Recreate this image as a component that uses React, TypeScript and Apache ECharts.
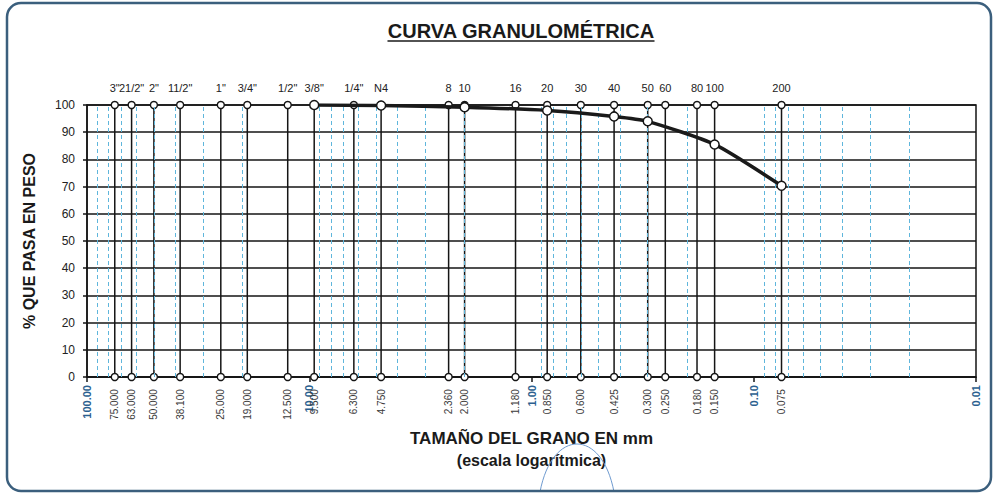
import React, { useEffect, useRef } from "react";
import * as echarts from "echarts";

const sieveNames = ['3"', '21/2"', '2"', '11/2"', '1"', '3/4"', '1/2"', '3/8"', '1/4"', "N4", "8", "10", "16", "20", "30", "40", "50", "60", "80", "100", "200"];
const sieveSizes = [75, 63, 50, 38.1, 25, 19, 12.5, 9.5, 6.3, 4.75, 2.36, 2.0, 1.18, 0.85, 0.6, 0.425, 0.3, 0.25, 0.18, 0.15, 0.075];
const sieveSizeLabels = ["75.000", "63.000", "50.000", "38.100", "25.000", "19.000", "12.500", "9.500", "6.300", "4.750", "2.360", "2.000", "1.180", "0.850", "0.600", "0.425", "0.300", "0.250", "0.180", "0.150", "0.075"];

const curveSizes = [9.5, 4.75, 2.0, 0.85, 0.425, 0.3, 0.15, 0.075];
const curvePassing = [100, 99.8, 99.2, 98.0, 95.8, 94.0, 85.5, 70.3];

const minorGridValues = [
  90, 80, 70, 60, 50, 40, 30, 20,
  9, 8, 7, 6, 5, 4, 3, 2,
  0.9, 0.8, 0.7, 0.6, 0.5, 0.4, 0.3, 0.2,
  0.09, 0.08, 0.07, 0.06, 0.05, 0.04, 0.03, 0.02,
];

const TITLE = "CURVA GRANULOMÉTRICA";
const FONT = "'Liberation Sans', Arial, sans-serif";

export default function App() {
  const ref = useRef<HTMLDivElement>(null);

  useEffect(() => {
    if (!ref.current) return;
    const chart = echarts.init(ref.current, null, { renderer: "svg" });

    let titleW = 298;
    try {
      const c = document.createElement("canvas").getContext("2d");
      if (c) {
        c.font = "bold 20px 'Liberation Sans', Arial, sans-serif";
        titleW = c.measureText(TITLE).width;
      }
    } catch (e) {}
    const titleCx = 521;

    const sieveSeries = sieveSizes.map((s, i) => ({
      type: "line",
      silent: true,
      z: 3,
      symbol: "circle",
      symbolSize: 7,
      itemStyle: { color: "#fff", borderColor: "#151515", borderWidth: 1.4 },
      lineStyle: { color: "#151515", width: 1.5 },
      data: [
        {
          value: [s, 0],
          label: {
            show: true,
            position: "bottom",
            formatter: sieveSizeLabels[i],
            rotate: 90,
            align: "right",
            verticalAlign: "middle",
            distance: 8,
            fontSize: 10,
            fontFamily: FONT,
            color: "#3a3a3a",
          },
        },
        {
          value: [s, 100],
          label: {
            show: true,
            position: "top",
            formatter: sieveNames[i],
            distance: 7,
            fontSize: 11,
            fontFamily: FONT,
            color: "#222",
          },
        },
      ],
    }));

    const option: any = {
      animation: false,
      backgroundColor: "#fff",
      grid: {
        left: 87,
        right: 22,
        top: 105,
        bottom: 118,
        show: true,
        borderColor: "#151515",
        borderWidth: 1.5,
      },
      xAxis: {
        type: "log",
        logBase: 10,
        min: 0.01,
        max: 100,
        inverse: true,
        position: "bottom",
        axisLine: { show: true, lineStyle: { color: "#151515", width: 1.5 } },
        axisTick: { show: true, length: 5, lineStyle: { color: "#151515", width: 1.5 } },
        splitLine: { show: false },
        axisLabel: {
          rotate: 90,
          margin: 8,
          fontSize: 11,
          fontWeight: "bold",
          fontFamily: FONT,
          color: "#2c5f8f",
          formatter: (v: number) => Number(v).toFixed(2),
        },
        name: "{a|TAMAÑO DEL GRANO EN mm}\n{b|(escala logarítmica)}",
        nameLocation: "middle",
        nameGap: 50,
        nameTextStyle: {
          rich: {
            a: { fontSize: 17, fontWeight: "bold", fontFamily: FONT, color: "#1a1a1a", lineHeight: 22 },
            b: { fontSize: 16, fontWeight: "bold", fontFamily: FONT, color: "#1a1a1a", lineHeight: 22 },
          },
        },
      },
      yAxis: {
        type: "value",
        min: 0,
        max: 100,
        interval: 10,
        axisLine: { show: true, lineStyle: { color: "#151515", width: 1.5 } },
        axisTick: { show: true, length: 4, lineStyle: { color: "#151515", width: 1.5 } },
        splitLine: { show: true, lineStyle: { color: "#151515", width: 1.5 } },
        axisLabel: { fontSize: 12, fontFamily: FONT, color: "#222", margin: 12 },
        name: "% QUE PASA EN PESO",
        nameLocation: "middle",
        nameGap: 50,
        nameTextStyle: { fontSize: 16, fontWeight: "bold", fontFamily: FONT, color: "#1a1a1a" },
      },
      graphic: [
        {
          type: "text",
          x: titleCx,
          y: 31,
          style: {
            text: TITLE,
            font: "bold 20px 'Liberation Sans', Arial, sans-serif",
            fill: "#1a1a1a",
            textAlign: "center",
            textVerticalAlign: "middle",
          },
          silent: true,
        },
        {
          type: "line",
          shape: { x1: titleCx - titleW / 2, y1: 41, x2: titleCx + titleW / 2, y2: 41 },
          style: { stroke: "#1a1a1a", lineWidth: 1.5 },
          silent: true,
        },
        {
          type: "bezierCurve",
          shape: { x1: 540, y1: 492, cpx1: 552, cpy1: 428, cpx2: 602, cpy2: 428, x2: 614, y2: 492 },
          style: { stroke: "#6f9bd0", lineWidth: 1, fill: "none" },
          silent: true,
          z: 50,
        },
        {
          type: "rect",
          shape: { x: 7, y: 3, width: 984, height: 488, r: 14 },
          style: { fill: "none", stroke: "#3b5f7d", lineWidth: 2.5 },
          silent: true,
          z: 100,
        },
      ],
      series: [
        {
          type: "line",
          silent: true,
          z: 1,
          symbol: "none",
          lineStyle: { opacity: 0 },
          data: curveSizes.map((s, i) => [s, curvePassing[i]]),
          markLine: {
            silent: true,
            symbol: ["none", "none"],
            label: { show: false },
            lineStyle: { type: [4, 3], color: "#5fb6dc", width: 1 },
            data: minorGridValues.map((v) => ({ xAxis: v })),
          },
        },
        ...sieveSeries,
        {
          type: "line",
          silent: true,
          z: 5,
          smooth: 0.2,
          symbol: "circle",
          symbolSize: 9,
          itemStyle: { color: "#fff", borderColor: "#151515", borderWidth: 1.5 },
          lineStyle: { color: "#1a1a1a", width: 3.5 },
          data: curveSizes.map((s, i) => [s, curvePassing[i]]),
        },
      ],
    };

    chart.setOption(option);
    return () => chart.dispose();
  }, []);

  return (
    <div
      ref={ref}
      style={{ position: "fixed", left: 0, top: 0, width: 998, height: 495 }}
    />
  );
}
